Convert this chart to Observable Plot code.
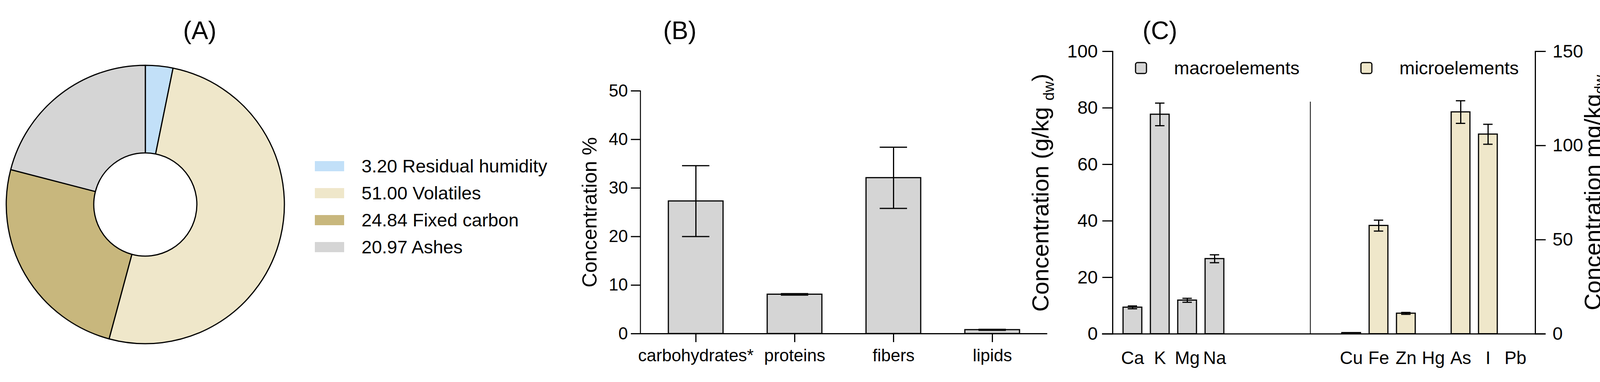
<!DOCTYPE html>
<html><head><meta charset="utf-8">
<script src="https://cdn.jsdelivr.net/npm/d3@7"></script>
<script src="https://cdn.jsdelivr.net/npm/@observablehq/plot@0.6"></script>
<style>
html,body{margin:0;padding:0;background:#fff;overflow:hidden;}
#fig{position:relative;width:4152px;height:977px;background:#fff;}
#fig svg{position:absolute;top:0;overflow:visible;}
</style></head><body><div id="fig"></div>
<script>
// ---------- data ----------
const proxNames = ["Residual humidity", "Volatiles", "Fixed carbon", "Ashes"];
const proxValues = [3.20, 51.00, 24.84, 20.97];
const proxColors = ["#c2e0f8", "#efe7ca", "#c8b77d", "#d5d5d5"];

const compCats = ["carbohydrates*", "proteins", "fibers", "lipids"];
const compMean = [27.3, 8.1, 32.1, 0.8];
const compErr = [7.3, 0.15, 6.3, 0.1];
const compTicks = [0, 10, 20, 30, 40, 50];

const macroCats = ["Ca", "K", "Mg", "Na"];
const macroMean = [9.4, 77.7, 11.9, 26.6];
const macroErr = [0.5, 4.0, 0.7, 1.4];
const macroTicks = [0, 20, 40, 60, 80, 100];

const microCats = ["Cu", "Fe", "Zn", "Hg", "As", "I", "Pb"];
const microMean = [0.6, 57.5, 10.9, 0, 117.8, 106.0, 0];
const microErr = [0, 2.9, 0.5, 0, 6.0, 5.3, 0];
const microTicks = [0, 50, 100, 150];

// ---------- tables ----------
const prox = proxNames.map((name, i) => ({name, value: proxValues[i]}));
const comp = compCats.map((cat, i) => ({cat, mean: compMean[i], lo: compMean[i] - compErr[i], hi: compMean[i] + compErr[i], err: compErr[i]}));
const macro = macroCats.map((cat, i) => ({cat, mean: macroMean[i], lo: macroMean[i] - macroErr[i], hi: macroMean[i] + macroErr[i], err: macroErr[i]}));
const micro = microCats.map((cat, i) => ({cat, mean: microMean[i], lo: microMean[i] - microErr[i], hi: microMean[i] + microErr[i], err: microErr[i]}));

const FONT = "'Liberation Sans', Arial, Helvetica, sans-serif";
const baseStyle = {fontFamily: FONT, fontSize: "46px", color: "#000", background: "transparent", overflow: "visible"};
const fig = document.getElementById("fig");
const TITLE = {textAnchor: "middle", lineAnchor: "middle", fontSize: 64};

// ---------- Panel A: donut ----------
const colorScale = Plot.scale({color: {type: "ordinal", domain: proxNames, range: proxColors}});
function donutMark() {
  const g = d3.create("svg:g").attr("transform", "translate(372,523)");
  const arcs = d3.pie().sort(null).value(d => d.value)(prox);
  const arc = d3.arc().innerRadius(132).outerRadius(356);
  g.selectAll("path").data(arcs).join("path")
    .attr("d", arc)
    .attr("fill", d => colorScale.apply(d.data.name))
    .attr("stroke", "#000").attr("stroke-width", 3).attr("stroke-linejoin", "round");
  return g.node();
}
const svgA = Plot.plot({
  width: 1400, height: 977, margin: 0,
  style: baseStyle,
  x: {domain: [0, 1], range: [806, 881], axis: null},
  y: {type: "band", domain: proxNames, range: [411, 645], paddingInner: 0.625, paddingOuter: 0, axis: null},
  color: {domain: proxNames, range: proxColors},
  marks: [
    donutMark,
    Plot.barX(prox, {y: "name", x1: 0, x2: 1, fill: "name"}),
    Plot.text(prox, {y: "name", x: 1, dx: 44, text: d => `${d.value.toFixed(2)} ${d.name}`, textAnchor: "start", lineAnchor: "middle", fontSize: 47}),
    Plot.text(["(A)"], {frameAnchor: "top-left", dx: 511, dy: 79, ...TITLE})
  ]
});
svgA.style.left = "0px";
fig.appendChild(svgA);

// ---------- Panel B ----------
const svgB = Plot.plot({
  width: 1300, height: 977, marginLeft: 239, marginRight: 19, marginTop: 232, marginBottom: 124,
  style: baseStyle,
  x: {domain: compCats, paddingInner: 0.448, paddingOuter: 0.276, label: null},
  y: {domain: [0, 50], label: null},
  marks: [
    Plot.barY(comp, {x: "cat", y: "mean", fill: "#d5d5d5", stroke: "#000", strokeWidth: 3}),
    Plot.ruleX(comp, {x: "cat", y1: "lo", y2: "hi", strokeWidth: 3}),
    Plot.tickY(comp, {x: "cat", y: "lo", insetLeft: 35, insetRight: 35, strokeWidth: 3}),
    Plot.tickY(comp, {x: "cat", y: "hi", insetLeft: 35, insetRight: 35, strokeWidth: 3}),
    Plot.frame({anchor: "left", strokeWidth: 2.5}),
    Plot.ruleY([0], {insetLeft: -24, strokeWidth: 3}),
    Plot.axisY({ticks: compTicks, tickSize: 24, tickPadding: 8, strokeWidth: 3, fontSize: 44, label: null}),
    Plot.axisX({tickSize: 22, tickPadding: 17, strokeWidth: 3, fontSize: 44, label: null}),
    Plot.text(["Concentration %"], {frameAnchor: "left", dx: -129, rotate: -90, textAnchor: "middle", lineAnchor: "middle", fontSize: 52}),
    Plot.text(["(B)"], {frameAnchor: "top-left", dx: 101, dy: 79 - 232, ...TITLE})
  ]
});
svgB.style.left = "1400px";
fig.appendChild(svgB);

// ---------- Panel C ----------
const gaps = ["\u200b1", "\u200b2", "\u200b3", "\u200b4"];
const cDomain = [...macroCats, ...gaps, ...microCats];
const C_W = 1532, C_ML = 228, C_MR = 222, C_MT = 131, C_MB = 123.5;
const cLayout = {width: C_W, height: 977, marginLeft: C_ML, marginRight: C_MR, marginTop: C_MT, marginBottom: C_MB, style: baseStyle};
const cX = {domain: cDomain, paddingInner: 0.318, paddingOuter: 0.349, label: null};
const LEFT_LABEL = "Concentration (g/kg dw)";
const RIGHT_LABEL = "Concentration mg/kg dw";
// legend swatch: 28px rounded squares, frame runs from x=2848 to 3930 and y=131 to 853.5
function swatch(left, fill) {
  return Plot.rect([0], {
    insetLeft: left - 2848, insetRight: 3930 - (left + 28),
    insetTop: 160 - 131, insetBottom: 853.5 - 188,
    rx: 5, fill, stroke: "#000", strokeWidth: 3
  });
}
const LEG = {frameAnchor: "top-left", dy: 174 - 131, textAnchor: "start", lineAnchor: "middle", fontSize: 47};

const svgC1 = Plot.plot({
  ...cLayout,
  x: cX,
  y: {domain: [0, 100], label: null},
  marks: [
    Plot.barY(macro, {x: "cat", y: "mean", fill: "#d5d5d5", stroke: "#000", strokeWidth: 3}),
    Plot.ruleX(macro, {x: "cat", y1: "lo", y2: "hi", strokeWidth: 3}),
    Plot.tickY(macro, {x: "cat", y: "lo", insetLeft: 12, insetRight: 12, strokeWidth: 3}),
    Plot.tickY(macro, {x: "cat", y: "hi", insetLeft: 12, insetRight: 12, strokeWidth: 3}),
    Plot.ruleX([gaps[3]], {dx: -35, insetTop: 129, strokeWidth: 2}),
    Plot.frame({anchor: "left", strokeWidth: 3}),
    Plot.ruleY([0], {insetLeft: -27, insetRight: -26, strokeWidth: 3}),
    Plot.axisY({ticks: macroTicks, tickSize: 26, tickPadding: 12, strokeWidth: 3, fontSize: 47, label: null}),
    Plot.axisX({ticks: [...macroCats, ...microCats], tickSize: 0, tickPadding: 44, fontSize: 46, label: null}),
    swatch(2907, "#d5d5d5"),
    Plot.text(["macroelements"], {...LEG, dx: 3005 - 2848}),
    swatch(3484, "#efe7ca"),
    Plot.text(["microelements"], {...LEG, dx: 3582 - 2848}),
    Plot.text([LEFT_LABEL], {frameAnchor: "left", dx: -184, rotate: -90, textAnchor: "middle", lineAnchor: "middle", fontSize: 60}),
    Plot.text(["(C)"], {frameAnchor: "top-left", dx: 2969 - 2848, dy: 79 - 131, ...TITLE})
  ]
});
svgC1.style.left = "2620px";
fig.appendChild(svgC1);

const svgC2 = Plot.plot({
  ...cLayout,
  x: {...cX, axis: null},
  y: {domain: [0, 150], label: null},
  marks: [
    Plot.barY(micro, {filter: d => d.mean > 0, x: "cat", y: "mean", fill: "#efe7ca", stroke: "#000", strokeWidth: 3}),
    Plot.ruleX(micro, {filter: d => d.err > 0, x: "cat", y1: "lo", y2: "hi", strokeWidth: 3}),
    Plot.tickY(micro, {filter: d => d.err > 0, x: "cat", y: "lo", insetLeft: 12, insetRight: 12, strokeWidth: 3}),
    Plot.tickY(micro, {filter: d => d.err > 0, x: "cat", y: "hi", insetLeft: 12, insetRight: 12, strokeWidth: 3}),
    Plot.frame({anchor: "right", strokeWidth: 3}),
    Plot.axisY({anchor: "right", ticks: microTicks, tickSize: 26, tickPadding: 18, strokeWidth: 3, fontSize: 47, label: null}),
    Plot.text([RIGHT_LABEL], {frameAnchor: "right", dx: 148, rotate: -90, textAnchor: "middle", lineAnchor: "middle", fontSize: 60})
  ]
});
svgC2.style.left = "2620px";
fig.appendChild(svgC2);

// subscripts "dw"
function subscript(svg, full, before, after, shift) {
  d3.select(svg).selectAll("text").filter(function () { return this.textContent === full; }).each(function () {
    const t = d3.select(this);
    t.text(null);
    t.append("tspan").text(before);
    t.append("tspan").attr("font-size", "38px").attr("dy", shift).text("dw");
    if (after) t.append("tspan").attr("dy", -shift).text(after);
  });
}
subscript(svgC1, LEFT_LABEL, "Concentration (g/kg ", ")", 14);
subscript(svgC2, RIGHT_LABEL, "Concentration mg/kg", "", 11);
</script></body></html>
